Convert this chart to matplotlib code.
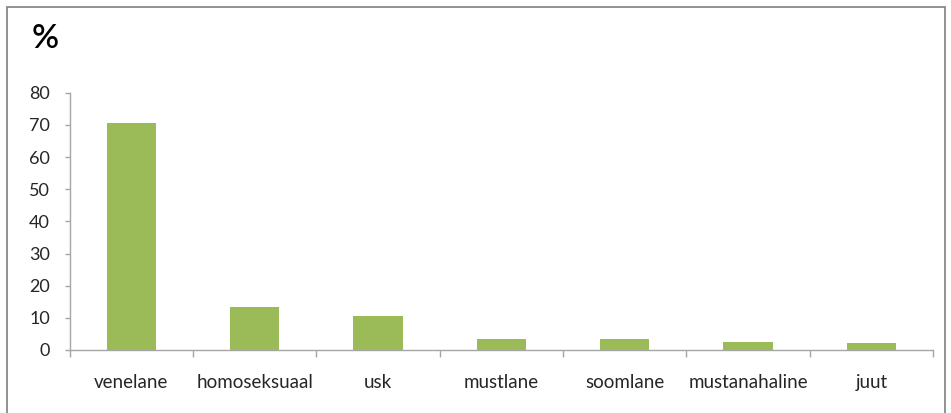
import matplotlib
matplotlib.use("Agg")
import matplotlib.pyplot as plt
from matplotlib.patches import Rectangle
import numpy as np

# data
categories = ["venelane", "homoseksuaal", "usk", "mustlane", "soomlane",
              "mustanahaline", "juut"]
values = [70.6, 13.3, 10.6, 3.4, 3.4, 2.6, 2.1]
yticks = [0, 10, 20, 30, 40, 50, 60, 70, 80]

BAR = "#9bbb59"
AXIS = "#a6a6a6"
TXT = "#262626"

plt.rcParams["font.family"] = ["Lato", "DejaVu Sans"]

W, H = 951, 413
fig = plt.figure(figsize=(W / 100, H / 100), dpi=100)
ax = fig.add_axes([69.7 / W, 1 - 350 / H, (933 - 69.7) / W, (350 - 92.7) / H])

x = np.arange(len(categories))
ax.bar(x, values, width=0.4, color=BAR, edgecolor="none")

ax.set_xlim(-0.5, len(categories) - 0.5)
ax.set_ylim(0, 80)
ax.set_yticks(yticks)
ax.tick_params(axis="y", length=3.6, width=1, color=AXIS, labelsize=13,
               labelcolor=TXT, pad=10.5)

ax.set_xticks(x)
ax.set_xticklabels(categories)
ax.tick_params(axis="x", length=0, labelsize=13.5, labelcolor=TXT, pad=17)
# category boundary ticks
ax.set_xticks(np.arange(len(categories) + 1) - 0.5, minor=True)
ax.tick_params(axis="x", which="minor", length=5, width=1, color=AXIS)

for s in ("top", "right"):
    ax.spines[s].set_visible(False)
for s in ("left", "bottom"):
    ax.spines[s].set_color(AXIS)
    ax.spines[s].set_linewidth(1)

fig.text(32 / W, 1 - 39 / H, "%", fontsize=24, fontweight="semibold",
         color="black", va="center", ha="left")

# outer frame of the chart area
fig.patches.append(Rectangle((6.5 / W, -0.1), (945 - 6.5) / W, 1.1 - 6.5 / H,
                             transform=fig.transFigure, fill=False,
                             edgecolor="#7f7f7f", linewidth=1.2))

fig.savefig("out.png", dpi=100)
